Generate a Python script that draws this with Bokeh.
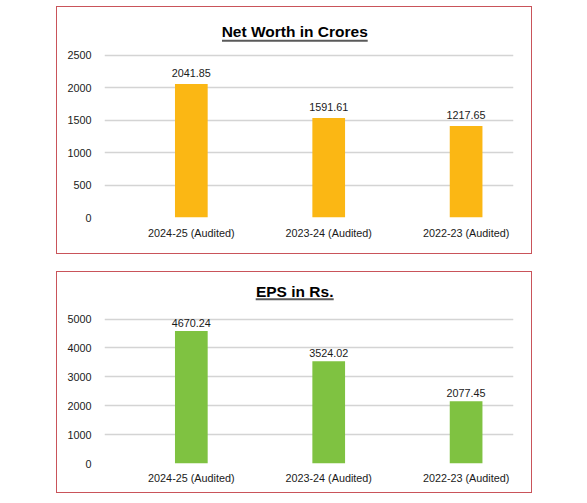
from bokeh.plotting import figure
from bokeh.models import (ColumnDataSource, Range1d, FixedTicker, Label, BoxAnnotation)
from bokeh.layouts import column
from bokeh.core.properties import value
from bokeh.embed import file_html
from bokeh.resources import INLINE

# ---- data ----
categories = ["2024-25 (Audited)", "2023-24 (Audited)", "2022-23 (Audited)"]

nw_title = "Net Worth in Crores"
nw_bars = [2058, 1535, 1412]           # bar heights as drawn
nw_labels = ["2041.85", "1591.61", "1217.65"]
nw_ticks = [0, 500, 1000, 1500, 2000, 2500]

eps_title = "EPS in Rs."
eps_bars = [4583, 3542, 2153]          # bar heights as drawn
eps_labels = ["4670.24", "3524.02", "2077.45"]
eps_ticks = [0, 1000, 2000, 3000, 4000, 5000]

FONT = "Liberation Sans"
TXT = "#1a1a1a"


def make_chart(title, bars, labels, ticks, color, height, mb_bottom, top_gap,
               x_standoff, lab_off, title_y, ul_left, ul_right, ul_y, top_margin):
    xs = list(range(len(categories)))
    src = ColumnDataSource(dict(x=xs, top=bars, lab=labels))
    frame_h = height - mb_bottom
    # y range extended above the top tick so the title sits inside the frame
    y_end = ticks[-1] * frame_h / (frame_h - top_gap)
    p = figure(width=476, height=height, output_backend="svg", toolbar_location=None,
               x_range=Range1d(-0.632, 2.345), y_range=Range1d(ticks[0], y_end),
               min_border_left=47, min_border_right=20, min_border_top=0,
               min_border_bottom=mb_bottom)
    p.margin = (top_margin, 0, 0, 56)
    p.styles = {"border": "1.5px solid #c9545a"}
    p.outline_line_color = None
    p.background_fill_color = "white"
    p.border_fill_color = "white"

    p.vbar(x="x", top="top", bottom=0, width=0.238, source=src,
           fill_color=color, line_color=None)
    p.text(x="x", y="top", text="lab", source=src, y_offset=lab_off,
           text_align="center", text_baseline="alphabetic",
           text_font=value(FONT), text_font_size="10.8px", text_color=TXT)

    p.xgrid.grid_line_color = None
    p.ygrid.grid_line_color = "#d4d4d4"
    p.ygrid.grid_line_width = 1.3
    p.ygrid.ticker = FixedTicker(ticks=ticks)

    p.yaxis.ticker = FixedTicker(ticks=ticks)
    p.xaxis.ticker = FixedTicker(ticks=xs)
    p.xaxis.major_label_overrides = {i: c for i, c in enumerate(categories)}
    for ax in (p.xaxis, p.yaxis):
        ax.axis_line_color = None
        ax.major_tick_line_color = None
        ax.minor_tick_line_color = None
        ax.major_label_text_font = FONT
        ax.major_label_text_font_size = "10.8px"
        ax.major_label_text_color = TXT
    p.yaxis.major_label_standoff = 7
    p.xaxis.major_label_standoff = x_standoff

    p.add_layout(Label(x=190.2, y=title_y, x_units="screen", y_units="screen",
                       text=title, text_align="center", text_baseline="middle",
                       text_font=FONT, text_font_size="15.5px",
                       text_font_style="bold", text_color="black"))
    p.add_layout(BoxAnnotation(left=ul_left, right=ul_right, bottom=ul_y - 1,
                               top=ul_y + 1, left_units="screen", right_units="screen",
                               bottom_units="screen", top_units="screen",
                               fill_color="#5a5a5a", fill_alpha=1, line_color=None,
                               line_alpha=0))
    return p


p1 = make_chart(nw_title, nw_bars, nw_labels, nw_ticks, "#FBB714", 248, 38, 47.8,
                3, -10.5, 185.8, 117.5, 263.2, 176.8, 6)
p2 = make_chart(eps_title, eps_bars, eps_labels, eps_ticks, "#7FC241", 222, 31, 46.5,
                2, -8, 171.8, 151.2, 229.2, 164.2, 17)

layout = column(p1, p2)
open("out.html", "w").write(file_html(layout, INLINE))
